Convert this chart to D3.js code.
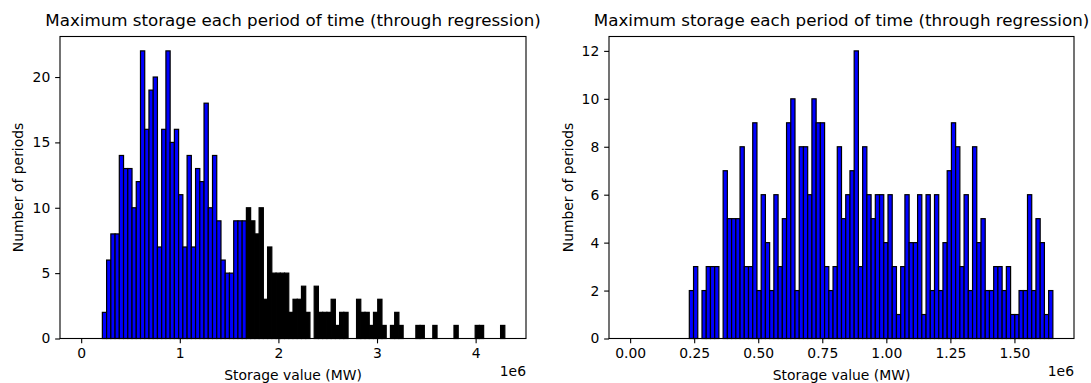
<!DOCTYPE html>
<html>
<head>
<meta charset="utf-8">
<script src="https://cdn.jsdelivr.net/npm/d3@7"></script>
<style>
  html, body { margin: 0; padding: 0; background: #fff; }
  svg { display: block; font-family: "DejaVu Sans", sans-serif; }
</style>
</head>
<body>
<svg id="chart" width="1091" height="383"></svg>
<script>
// ---- data: counts per bin, 100 equal-width bins from 0 to the max storage value ----
const leftMax = 4.296e6;
const leftCounts = [
  0, 0, 0, 0, 0, 2, 6, 8, 8, 14,
  13, 13, 10, 12, 22, 16, 19, 20, 7, 16,
  22, 15, 16, 11, 7, 14, 7, 13, 12, 18,
  10, 14, 9, 6, 5, 5, 9, 9, 9, 10,
  9, 8, 10, 3, 7, 5, 5, 5, 5, 2,
  3, 3, 4, 2, 0, 4, 2, 2, 2, 3,
  1, 2, 2, 0, 0, 3, 2, 2, 1, 2,
  3, 1, 0, 1, 2, 1, 0, 0, 0, 1,
  1, 0, 0, 1, 0, 0, 0, 0, 1, 0,
  0, 0, 0, 1, 1, 0, 0, 0, 0, 1
];
// bins from this index on lie above the storage cap and are drawn in black
const leftCapBin = 39;

const rightMax = 1.650e6;
const rightCounts = [
  0, 0, 0, 0, 0, 0, 0, 0, 0, 0,
  0, 0, 0, 0, 2, 3, 0, 2, 3, 3,
  3, 0, 7, 5, 5, 5, 8, 3, 3, 9,
  2, 6, 4, 2, 6, 3, 5, 9, 10, 2,
  8, 8, 6, 10, 9, 9, 3, 2, 3, 8,
  5, 6, 7, 12, 3, 8, 6, 5, 6, 6,
  4, 6, 3, 1, 3, 6, 4, 4, 6, 1,
  6, 2, 6, 2, 4, 7, 9, 8, 3, 6,
  2, 8, 4, 5, 2, 2, 3, 3, 2, 3,
  1, 1, 2, 2, 6, 2, 5, 4, 1, 2
];

const leftXTicks = [0, 1e6, 2e6, 3e6, 4e6];
const leftYTicks = [0, 5, 10, 15, 20];
const rightXTicks = [0, 0.25e6, 0.5e6, 0.75e6, 1.0e6, 1.25e6, 1.5e6];
const rightYTicks = [0, 2, 4, 6, 8, 10, 12];

const titleText = "Maximum storage each period of time (through regression)";
const xLabelText = "Storage value (MW)";
const yLabelText = "Number of periods";
const offsetText = "1e6";

// ---- layout ----
const svg = d3.select("#chart");
const plotTop = 36.5, plotBottom = 338.5;
const panels = [
  { x0: 60, x1: 526, max: leftMax, counts: leftCounts, capBin: leftCapBin,
    xt: leftXTicks, yt: leftYTicks, fmt: v => d3.format("d")(v / 1e6), ylx: 18 },
  { x0: 609, x1: 1074, max: rightMax, counts: rightCounts, capBin: Infinity,
    xt: rightXTicks, yt: rightYTicks, fmt: v => d3.format(".2f")(v / 1e6), ylx: 568 }
];

const tickLen = 4.86, tickPad = 4.86, labelSize = 13.9;

panels.forEach(p => {
  const nBins = p.counts.length;
  const binW = p.max / nBins;
  const x = d3.scaleLinear()
    .domain([-0.05 * p.max, 1.05 * p.max])
    .range([p.x0, p.x1]);
  const yMax = d3.max(p.counts) * 1.05;
  const y = d3.scaleLinear().domain([0, yMax]).range([plotBottom, plotTop]);

  const g = svg.append("g");

  // bars
  const bins = p.counts.map((c, i) => ({ i, c })).filter(d => d.c > 0);
  g.append("g").selectAll("rect").data(bins).join("rect")
    .attr("x", d => x(d.i * binW))
    .attr("width", d => x((d.i + 1) * binW) - x(d.i * binW))
    .attr("y", d => y(d.c))
    .attr("height", d => y(0) - y(d.c))
    .attr("fill", d => d.i >= p.capBin ? "#000000" : "#0000ff")
    .attr("stroke", "#000000")
    .attr("stroke-width", 1.2);

  // axes
  const xAxis = d3.axisBottom(x).tickValues(p.xt).tickFormat(p.fmt)
    .tickSize(tickLen).tickPadding(tickPad);
  const yAxis = d3.axisLeft(y).tickValues(p.yt).tickFormat(d3.format("d"))
    .tickSize(tickLen).tickPadding(tickPad);

  const gx = g.append("g").attr("transform", `translate(0,${plotBottom})`).call(xAxis);
  const gy = g.append("g").attr("transform", `translate(${p.x0},0)`).call(yAxis);
  [gx, gy].forEach(a => {
    a.select(".domain").remove();
    a.attr("font-size", labelSize).attr("font-family", "DejaVu Sans, sans-serif");
    a.selectAll("line").attr("stroke", "#000").attr("stroke-width", 1.1);
    a.selectAll("text").attr("fill", "#000");
  });

  // frame
  g.append("rect")
    .attr("x", p.x0).attr("y", plotTop)
    .attr("width", p.x1 - p.x0).attr("height", plotBottom - plotTop)
    .attr("fill", "none").attr("stroke", "#000").attr("stroke-width", 1.1);

  // title
  g.append("text")
    .attr("x", (p.x0 + p.x1) / 2).attr("y", 26)
    .attr("text-anchor", "middle").attr("font-size", 16.7)
    .attr("fill", "#000").text(titleText);

  // x label and offset
  g.append("text")
    .attr("x", (p.x0 + p.x1) / 2).attr("y", 380)
    .attr("text-anchor", "middle").attr("font-size", labelSize)
    .attr("fill", "#000").text(xLabelText);
  g.append("text")
    .attr("x", p.x1).attr("y", 376)
    .attr("text-anchor", "end").attr("font-size", labelSize)
    .attr("fill", "#000").text(offsetText);

  // y label
  g.append("text")
    .attr("transform", `translate(${p.ylx},${(plotTop + plotBottom) / 2}) rotate(-90)`)
    .attr("dy", "0.36em")
    .attr("text-anchor", "middle").attr("font-size", labelSize)
    .attr("fill", "#000").text(yLabelText);
});
</script>
</body>
</html>
